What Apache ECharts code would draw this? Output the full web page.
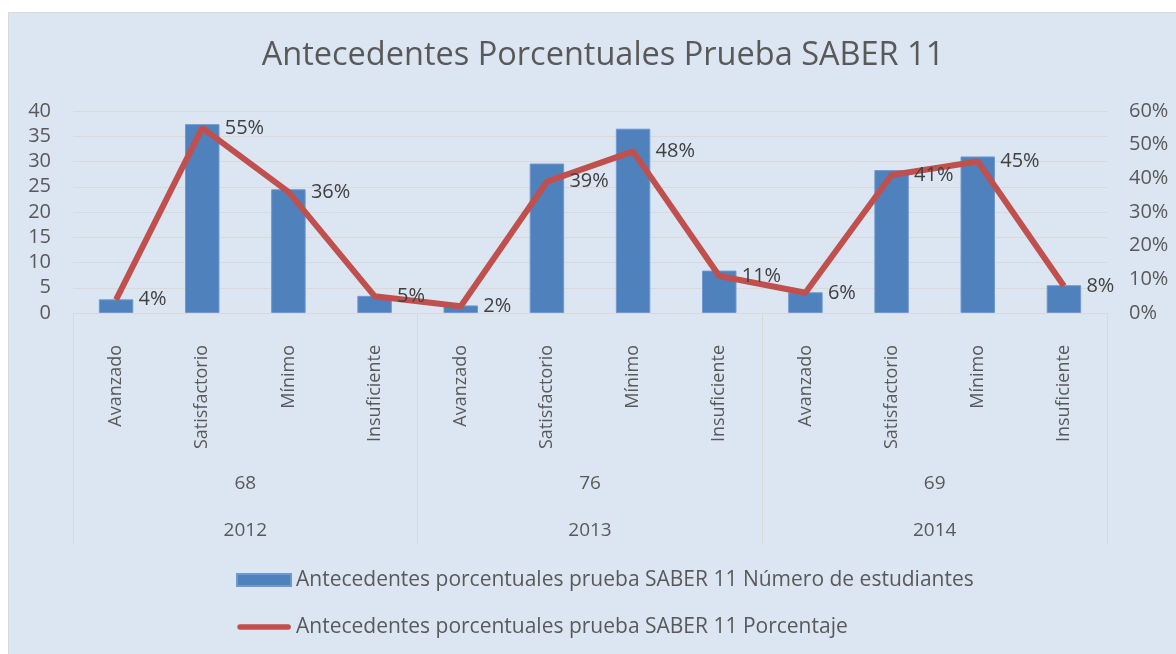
<!DOCTYPE html>
<html><head><meta charset="utf-8">
<script src="https://cdn.jsdelivr.net/npm/echarts@6/dist/echarts.min.js"></script>
<style>
html,body{margin:0;padding:0;background:#fff;}
#wrap{position:relative;width:1176px;height:654px;overflow:hidden;background:#fff;}
#bg{position:absolute;left:8px;top:12px;width:1200px;height:700px;background:#dce6f2;border:1px solid #d9d9d9;}
#c{position:absolute;left:0;top:0;width:1176px;height:654px;}
</style></head>
<body><div id="wrap"><div id="bg"></div><div id="c"></div></div>
<script>
var categories = ['Avanzado','Satisfactorio','Mínimo','Insuficiente','Avanzado','Satisfactorio','Mínimo','Insuficiente','Avanzado','Satisfactorio','Mínimo','Insuficiente'];
var totals = ['68','76','69'];
var years = ['2012','2013','2014'];
var students = [2.7, 37.4, 24.5, 3.4, 1.5, 29.6, 36.5, 8.4, 4.1, 28.3, 31.0, 5.5];
var percents = [4, 55, 36, 5, 2, 39, 48, 11, 6, 41, 45, 8];
var leftTicks = {min:0, max:40, interval:5};
var rightTicks = {min:0, max:60, interval:10};
var nameBars = 'Antecedentes porcentuales prueba SABER 11 Número de estudiantes';
var nameLine = 'Antecedentes porcentuales prueba SABER 11 Porcentaje';
var titleText = 'Antecedentes Porcentuales Prueba SABER 11';

var FONT = 'Open Sans';
var chart = echarts.init(document.getElementById('c'), null, {renderer:'canvas'});
chart.setOption({
  animation:false,
  textStyle:{fontFamily:FONT},
  title:{text:titleText, left:598, top:34, textAlign:'center',
    textStyle:{fontFamily:FONT, fontSize:32.5, fontWeight:'normal', color:'#595959'}},
  legend:{orient:'vertical', left:236, top:569, padding:0, itemWidth:54, itemHeight:12, itemGap:25,
    textStyle:{fontFamily:FONT, fontSize:21, color:'#595959', lineHeight:22},
    data:[{name:nameBars, icon:'rect'},
          {name:nameLine, icon:'path://M0,0 M0,12 M3,3.2 L51,3.2 A2.8,2.8 0 0 1 51,8.8 L3,8.8 A2.8,2.8 0 0 1 3,3.2 Z'}]},
  grid:{left:73, right:69, top:111, bottom:341, containLabel:false},
  xAxis:[
    {type:'category', data:categories, position:'bottom',
     axisLine:{show:true, lineStyle:{color:'#d9d9d9', width:1}},
     axisTick:{show:false},
     axisLabel:{rotate:90, margin:32, fontSize:18, color:'#595959', fontFamily:FONT, interval:0}},
    {type:'category', data:totals, position:'bottom',
     axisLine:{show:false},
     axisTick:{show:true, length:232, alignWithLabel:false, lineStyle:{color:'#d9d9d9', width:1}},
     axisLabel:{margin:161, fontSize:19, color:'#595959', fontFamily:FONT, interval:0}},
    {type:'category', data:years, position:'bottom',
     axisLine:{show:false}, axisTick:{show:false},
     axisLabel:{margin:208, fontSize:19, color:'#595959', fontFamily:FONT, interval:0}}
  ],
  yAxis:[
    {type:'value', min:leftTicks.min, max:leftTicks.max, interval:leftTicks.interval, position:'left',
     axisLine:{show:false}, axisTick:{show:false},
     splitLine:{lineStyle:{color:'#d9d9d9', width:1}},
     axisLabel:{margin:22, fontSize:20, color:'#595959', fontFamily:FONT}},
    {type:'value', min:rightTicks.min, max:rightTicks.max, interval:rightTicks.interval, position:'right',
     axisLine:{show:false}, axisTick:{show:false}, splitLine:{show:false},
     axisLabel:{margin:22, fontSize:20, color:'#595959', fontFamily:FONT, formatter:'{value}%'}}
  ],
  series:[
    {name:nameBars, type:'bar', xAxisIndex:0, yAxisIndex:0, data:students, barWidth:'40%',
     itemStyle:{color:'#4f81bd', borderColor:'#6f98cf', borderWidth:1}},
    {name:nameLine, type:'line', xAxisIndex:0, yAxisIndex:1, data:percents,
     symbol:'circle', symbolSize:1, showSymbol:true,
     lineStyle:{color:'#c0504d', width:6}, itemStyle:{color:'#c0504d'}, z:3,
     label:{show:true, position:'right', distance:22, formatter:'{c}%', fontSize:20, color:'#404040', fontFamily:FONT}}
  ]
});
</script></body></html>
